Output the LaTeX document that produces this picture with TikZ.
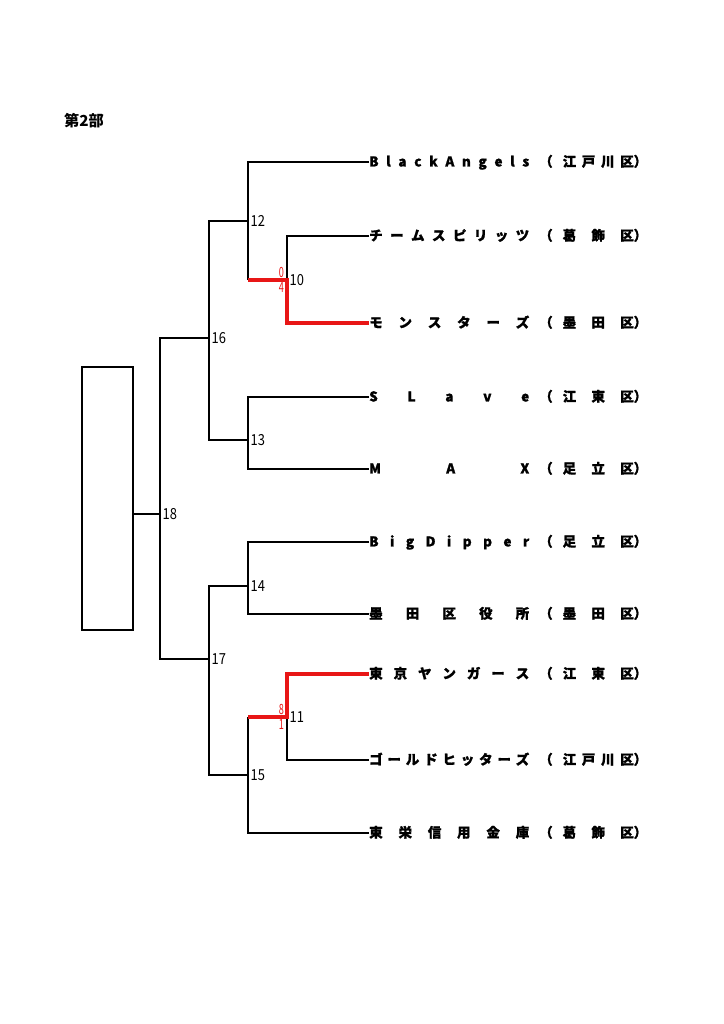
\documentclass[tikz,border=0pt]{standalone}
\usepackage{fontspec}
\setmainfont{Noto Sans CJK JP}
\newfontfamily\teamfont[BoldFeatures={FakeBold=1.2}]{Noto Sans CJK JP}
\newfontfamily\numfont[FakeStretch=0.85]{Noto Sans CJK JP}
\newfontfamily\scorefont[FakeStretch=0.65]{Noto Sans CJK JP}
\usetikzlibrary{positioning}

\definecolor{winred}{RGB}{232,22,22}

% spread the letters of a name over a fixed width
\def\spreadtext#1#2{\hbox to #1{\expandafter\spreadfirst#2\relax}}
\def\spreadfirst#1{#1\spreadrest}
\def\spreadrest#1{\ifx#1\relax\else\hfil#1\expandafter\spreadrest\fi}

\begin{document}
\begin{tikzpicture}[x=0.03cm, y=-0.03cm,
  line/.style={line width=1.3pt},
  winline/.style={line width=3.6pt, winred},
  team/.style={anchor=west, inner sep=0pt, text height=0.88em, text depth=0.12em,
    font=\teamfont\bfseries\fontsize{11.5}{13}\selectfont},
  num/.style={inner sep=0pt, font=\numfont\fontsize{13}{14}\selectfont},
  score/.style={inner sep=0pt, text=winred, font=\scorefont\fontsize{12}{12}\selectfont}]

\path [use as bounding box] (0,0) rectangle (724,1024);

% TITLE
\node [anchor=west, inner sep=0pt, font=\bfseries\fontsize{13}{15}\selectfont] (title) at (64,121) {第2部};

% TEAMS
\foreach \i/\y/\team/\ward in {
  1/162/BlackAngels/江戸川区,
  2/236/チームスピリッツ/葛飾区,
  3/323/モンスターズ/墨田区,
  4/397/SLave/江東区,
  5/469/MAX/足立区,
  6/542/BigDipper/足立区,
  7/614/墨田区役所/墨田区,
  8/674/東京ヤンガース/江東区,
  9/760/ゴールドヒッターズ/江戸川区,
  10/833/東栄信用金庫/葛飾区}{
  \node [team] (t\i) at (369,\y) {\spreadtext{4.8cm}{\team}};
  \node [team] (d\i) at (539,\y) {（\hspace{0.3cm}\spreadtext{2.13cm}{\ward}）};
}

% MATCHES
\coordinate (m10) at (287,280);
\coordinate (m11) at (287,717);
\coordinate (m12) at (248,221);
\coordinate (m13) at (248,440);
\coordinate (m14) at (248,586);
\coordinate (m15) at (248,775);
\coordinate (m16) at (209,338);
\coordinate (m17) at (209,659);
\coordinate (m18) at (160,514);

% WINNER BOX
\node [draw, line, inner sep=0pt, minimum width=1.53cm, minimum height=7.89cm] (champ) at (107.5,498.5) {};

% BRACKET
\draw [line] (t1.west) -| (m12) -- (m12 |- m10);
\draw [line] (t2.west) -| (m10);
\draw [line] (t4.west) -| (m13) |- (t5.west);
\draw [line] (t6.west) -| (m14) |- (t7.west);
\draw [line] (m11) |- (t9.west);
\draw [line] (m15 |- m11) -- (m15) |- (t10.west);
\draw [line] (m12) -| (m16) |- (m13);
\draw [line] (m14) -| (m17) |- (m15);
\draw [line] (m16) -| (m18) |- (m17);
\draw [line] (champ.east |- m18) -- (m18);

% WINNERS
\draw [winline] (m12 |- m10) -- (m10) |- (t3.west);
\draw [winline] (m15 |- m11) -- (m11) |- (t8.west);

% NUMBERS
\foreach \m in {10,11,12,13,14,15,16,17,18}
  \node [num, right=2pt of m\m] (n\m) {\m};

% SCORES
\node [score, above left=1.5pt and 2.5pt of m10] (s10a) {0};
\node [score, below left=1.5pt and 2.5pt of m10] (s10b) {4};
\node [score, above left=1.5pt and 2.5pt of m11] (s11a) {8};
\node [score, below left=1.5pt and 2.5pt of m11] (s11b) {1};

\end{tikzpicture}
\end{document}
